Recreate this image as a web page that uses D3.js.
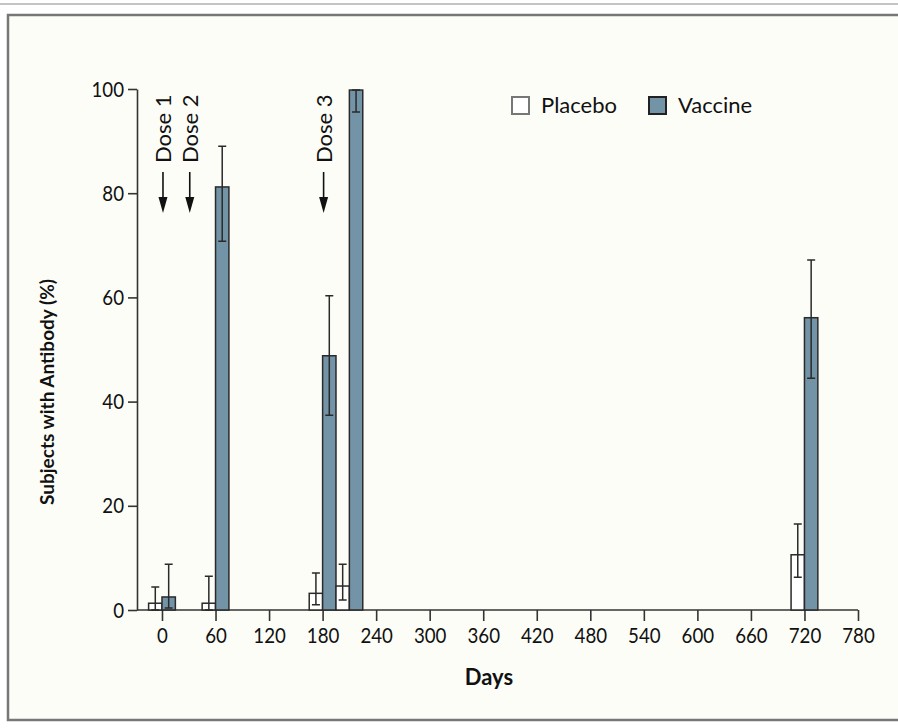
<!DOCTYPE html>
<html>
<head>
<meta charset="utf-8">
<script src="https://cdnjs.cloudflare.com/ajax/libs/d3/7.8.5/d3.min.js"></script>
<style>
  body { margin: 0; background: #ffffff; overflow: hidden; }
  svg { display: block; }
  svg text { font-family: Lato, "Noto Sans", sans-serif; fill: #111; }
</style>
</head>
<body>
<div id="chart"></div>
<script>
// Days at which antibodies were measured
const days = [0, 60, 180, 210, 720];
// Percent of subjects with antibody
const placebo = [1.3, 1.3, 3.2, 4.6, 10.6];
const placeboLow = [0, 0, 1.0, 1.9, 6.3];
const placeboHigh = [4.4, 6.5, 7.1, 8.8, 16.5];
const vaccine = [2.5, 81.2, 48.8, 99.8, 56.1];
const vaccineLow = [0.4, 70.8, 37.4, 95.6, 44.5];
const vaccineHigh = [8.8, 89.0, 60.3, 99.8, 67.2];
// Dosing days
const doseDays = [0, 30, 180];
const doseLabels = ['Dose 1', 'Dose 2', 'Dose 3'];
const xTicks = d3.range(0, 781, 60);
const yTicks = [0, 20, 40, 60, 80, 100];

const W = 898, H = 728;
const barDays = 15;
const colors = { placebo: '#ffffff', vaccine: '#7393a7', stroke: '#2a2a2a' };
const squeeze = 0.85; // tick labels are set in a condensed face

const svg = d3.select('#chart').append('svg')
  .attr('width', W).attr('height', H);

// frame
svg.append('line').attr('x1', 0).attr('x2', W).attr('y1', 4).attr('y2', 4)
  .attr('stroke', '#c4c4c4').attr('stroke-width', 2);
svg.append('rect').attr('x', 8).attr('y', 15).attr('width', W + 40).attr('height', 705)
  .attr('fill', '#fdfdf8').attr('stroke', '#777').attr('stroke-width', 2.5);

const x = d3.scaleLinear().domain([-28, 780]).range([137, 858]);
const y = d3.scaleLinear().domain([0, 100]).range([610, 89]);
const bw = x(barDays) - x(0);

// axes
const xAxis = svg.append('g').attr('transform', `translate(0,${y(0)})`)
  .call(d3.axisBottom(x).tickValues(xTicks).tickSize(11).tickSizeOuter(0).tickPadding(6));
const yAxis = svg.append('g').attr('transform', `translate(${x(-28)},0)`)
  .call(d3.axisLeft(y).tickValues(yTicks).tickSize(9).tickSizeOuter(0).tickPadding(3));
[xAxis, yAxis].forEach(a => {
  a.select('.domain').attr('stroke', '#333').attr('stroke-width', 1.6);
  a.selectAll('.tick line').attr('stroke', '#333').attr('stroke-width', 1.6);
  a.selectAll('.tick text').attr('font-size', 22).attr('fill', '#111')
    .attr('font-family', 'Lato, sans-serif');
});
xAxis.select('.domain').attr('d', `M${x(-28)},0H${x(780)}`);
xAxis.selectAll('.tick text').attr('transform', `scale(${squeeze},1)`);
yAxis.selectAll('.tick text')
  .attr('x', -13 / squeeze)
  .attr('transform', `scale(${squeeze},1)`);

// bars
const data = days.map((d, i) => ({
  day: d, p: placebo[i], pl: placeboLow[i], ph: placeboHigh[i],
  v: vaccine[i], vl: vaccineLow[i], vh: vaccineHigh[i]
}));

const g = svg.append('g');
const groups = g.selectAll('g.grp').data(data).enter().append('g');

groups.append('rect')
  .attr('x', d => x(d.day) - bw).attr('width', bw)
  .attr('y', d => y(d.p)).attr('height', d => y(0) - y(d.p))
  .attr('fill', colors.placebo).attr('stroke', colors.stroke).attr('stroke-width', 1.5);
groups.append('rect')
  .attr('x', d => x(d.day)).attr('width', bw)
  .attr('y', d => y(d.v)).attr('height', d => y(0) - y(d.v))
  .attr('fill', colors.vaccine).attr('stroke', colors.stroke).attr('stroke-width', 1.5);

function errBar(sel, cx, lo, hi) {
  const cap = 4;
  sel.append('path')
    .attr('d', d => {
      const c = cx(d), a = y(lo(d)), b = y(hi(d));
      return `M${c},${a}V${b}M${c - cap},${b}H${c + cap}M${c - cap},${a}H${c + cap}`;
    })
    .attr('fill', 'none').attr('stroke', colors.stroke).attr('stroke-width', 1.5);
}
errBar(groups, d => x(d.day) - bw / 2, d => d.pl, d => d.ph);
errBar(groups, d => x(d.day) + bw / 2, d => d.vl, d => d.vh);

// dose arrows
const doses = svg.append('g').selectAll('g').data(doseDays).enter().append('g')
  .attr('transform', d => `translate(${x(d) + 1},0)`);
doses.append('text').text((d, i) => doseLabels[i])
  .attr('transform', 'translate(8,163) rotate(-90)')
  .attr('font-size', 22);
doses.append('line').attr('x1', 0).attr('x2', 0).attr('y1', 172).attr('y2', 200)
  .attr('stroke', '#111').attr('stroke-width', 1.6);
doses.append('path').attr('d', 'M-4.5,197L4.5,197L0,213Z').attr('fill', '#111');

// legend
const legendItems = [
  { label: 'Placebo', fill: colors.placebo, stroke: '#777', x: 512 },
  { label: 'Vaccine', fill: colors.vaccine, stroke: '#222', x: 649 }
];
const lg = svg.append('g').selectAll('g').data(legendItems).enter().append('g')
  .attr('transform', d => `translate(${d.x},97)`);
lg.append('rect').attr('width', 17).attr('height', 17)
  .attr('fill', d => d.fill).attr('stroke', d => d.stroke).attr('stroke-width', 2);
lg.append('text').text(d => d.label).attr('x', 29).attr('y', 16)
  .attr('font-size', 22).attr('fill', '#000');

// axis titles
svg.append('text').text('Days')
  .attr('x', 489).attr('y', 685).attr('text-anchor', 'middle')
  .attr('font-size', 22).attr('font-weight', 'bold');
svg.append('text').text('Subjects with Antibody (%)')
  .attr('transform', 'translate(54,392) rotate(-90)')
  .attr('text-anchor', 'middle')
  .attr('font-size', 19).attr('font-weight', 'bold');
</script>
</body>
</html>
